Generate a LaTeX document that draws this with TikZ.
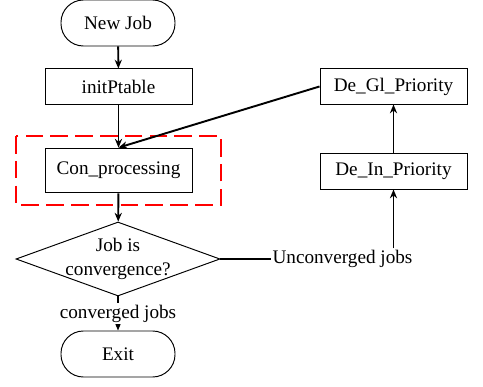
\documentclass[tikz,border=0pt]{standalone}
\usepackage{fontspec}
\setmainfont{Liberation Serif}
\usetikzlibrary{shapes.geometric, arrows.meta, positioning}

\begin{document}
\begin{tikzpicture}[
    x=0.625pt, y=-0.625pt,
    font=\fontsize{12}{14.5}\selectfont,
    startstop/.style={draw, rectangle, rounded corners=14pt, minimum width=71.25pt, minimum height=28.75pt, line width=0.6pt, align=center},
    process/.style={draw, rectangle, minimum width=91.9pt, minimum height=21.9pt, line width=0.6pt, align=center},
    decision/.style={draw, diamond, aspect=2.76, minimum width=127.5pt, minimum height=46.25pt, inner sep=-8pt, line width=0.6pt, align=center},
    arrow/.style={-{Stealth[length=5.5pt,width=4.5pt]}, line width=1.2pt},
    focus/.style={draw=red, dash pattern=on 11pt off 4.5pt, line width=1.4pt}
]
\useasboundingbox (0,0) rectangle (483,387);

% main column
\node[startstop] (newjob) at (118,23) {New Job};
\node[process] (init) at (118.5,86.5) {initPtable};
\node[process, minimum height=28pt] (conproc) at (118.5,170.5) {Con\_processing};
\node[decision] (check) at (118,259) {Job is\\convergence?};
\node[startstop] (exit) at (118,354) {Exit};

% feedback column
\node[process] (degl) at (393.5,86.5) {De\_Gl\_Priority};
\node[process] (dein) at (393.5,171.5) {De\_In\_Priority};
\node[inner sep=1pt] (unconv) at (342.5,259) {Unconverged jobs};

% highlighted step
\draw[focus] (16,136) rectangle (221,205);

\draw[arrow] (newjob) -- (init);
\draw[arrow] (init) -- (conproc);
\draw[arrow] (conproc) -- (check);
\draw[arrow] (check) -- (exit) node[midway, fill=white, inner sep=1pt] {converged jobs};
\draw[line width=1.2pt] (check.east) -- (unconv.west);
\draw[arrow] (unconv.north -| dein.south) -- (dein.south);
\draw[arrow] (dein) -- (degl);
\draw[arrow] (degl.west) -- (conproc.north);
\end{tikzpicture}
\end{document}
